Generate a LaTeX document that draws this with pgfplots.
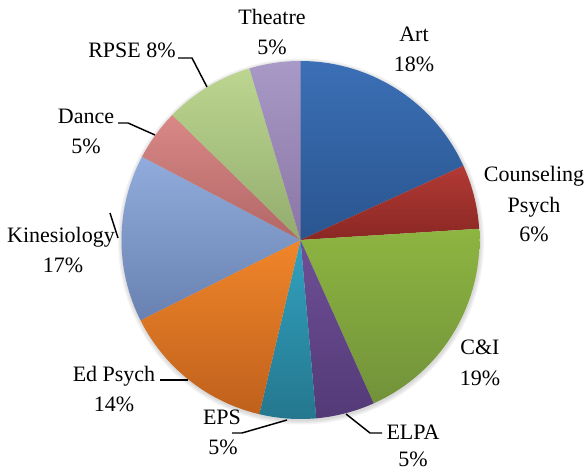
\documentclass[border=0pt]{standalone}
\usepackage{pgfplots}
\pgfplotsset{compat=1.18}
\usepackage{fontspec}
\setmainfont{Liberation Serif}
\definecolor{artT}{HTML}{3B6FB6}\definecolor{artB}{HTML}{2A558F}
\definecolor{cpT}{HTML}{B23A35}\definecolor{cpB}{HTML}{8A2723}
\definecolor{ciT}{HTML}{8DB541}\definecolor{ciB}{HTML}{72923A}
\definecolor{elT}{HTML}{6F4F96}\definecolor{elB}{HTML}{533A77}
\definecolor{epT}{HTML}{32A2C0}\definecolor{epB}{HTML}{24778E}
\definecolor{edT}{HTML}{F0862A}\definecolor{edB}{HTML}{BF601C}
\definecolor{kiT}{HTML}{91ACDC}\definecolor{kiB}{HTML}{6881B0}
\definecolor{daT}{HTML}{D98886}\definecolor{daB}{HTML}{B16766}
\definecolor{rpT}{HTML}{BCD690}\definecolor{rpB}{HTML}{93AC6E}
\definecolor{thT}{HTML}{A899C6}\definecolor{thB}{HTML}{8A76A6}
\tikzset{lab/.style={font=\fontsize{16.5}{19}\selectfont, anchor=base, inner sep=0pt}}
% slice: start percent, end percent (cumulative), top colour, bottom colour
\newcommand\slice[4]{%
  \addplot[draw=none, top color=#3, bottom color=#4, domain={90-3.6*#2}:{90-3.6*#1}, samples=60, variable=\t]
    ({300.5+179*cos(\t)}, {231+179*sin(\t)}) -- (axis cs:300.5,231) -- cycle;}
% soft shadow ring behind the pie
\newcommand\shadowring[1]{%
  \addplot[draw=none, fill=black, fill opacity=0.05, domain=0:360, samples=90, variable=\t]
    ({301+#1*cos(\t)}, {229.5+#1*sin(\t)}) -- cycle;}
\begin{document}
\begin{tikzpicture}
\begin{axis}[x=0.75pt, y=0.75pt, xmin=0, xmax=588, ymin=0, ymax=471,
  hide axis, clip=false]
\shadowring{183}
\shadowring{181.5}
\shadowring{180}
% values (percent of whole), cumulative
% Art 18.2, Counseling Psych 5.8, C&I 19.3, ELPA 5.3, EPS 5.1,
% Ed Psych 13.9, Kinesiology 15.1, Dance 4.6, RPSE 8.1, Theatre 4.6
\slice{0}{18.2}{artT}{artB}
\slice{18.2}{24.0}{cpT}{cpB}
\slice{24.0}{43.3}{ciT}{ciB}
\slice{43.3}{48.6}{elT}{elB}
\slice{48.6}{53.7}{epT}{epB}
\slice{53.7}{67.6}{edT}{edB}
\slice{67.6}{82.7}{kiT}{kiB}
\slice{82.7}{87.3}{daT}{daB}
\slice{87.3}{95.4}{rpT}{rpB}
\slice{95.4}{100}{thT}{thB}
% leader lines
\addplot[black, line width=1.1pt] coordinates {(178,413) (192,413) (207,384)};
\addplot[black, line width=1.1pt] coordinates {(118,348) (128,348) (155,336)};
\addplot[black, line width=1.1pt] coordinates {(110,258) (118,233)};
\addplot[black, line width=1.1pt] coordinates {(160,91) (188,91)};
\addplot[black, line width=1.1pt] coordinates {(232,38) (242,38) (287,51)};
\addplot[black, line width=1.1pt] coordinates {(346,57) (370,38) (382,38)};
% labels
\node[lab] at (axis cs:272,446) {Theatre};
\node[lab] at (axis cs:272,416) {5\%};
\node[lab] at (axis cs:414,429) {Art};
\node[lab] at (axis cs:414,399) {18\%};
\node[lab] at (axis cs:534,289) {Counseling};
\node[lab] at (axis cs:534,258) {Psych};
\node[lab] at (axis cs:534,229) {6\%};
\node[lab] at (axis cs:480,117) {C\&I};
\node[lab] at (axis cs:480,86) {19\%};
\node[lab] at (axis cs:413,32) {ELPA};
\node[lab] at (axis cs:413,5) {5\%};
\node[lab] at (axis cs:222,47) {EPS};
\node[lab] at (axis cs:223,17) {5\%};
\node[lab] at (axis cs:114,90) {Ed Psych};
\node[lab] at (axis cs:114,60) {14\%};
\node[lab] at (axis cs:61,228) {Kinesiology};
\node[lab] at (axis cs:63,199) {17\%};
\node[lab] at (axis cs:86,347) {Dance};
\node[lab] at (axis cs:86,317) {5\%};
\node[lab] at (axis cs:132,413) {RPSE 8\%};
\end{axis}
\pgfresetboundingbox
\path (0,0) rectangle (441pt,353.25pt);
\end{tikzpicture}
\end{document}
